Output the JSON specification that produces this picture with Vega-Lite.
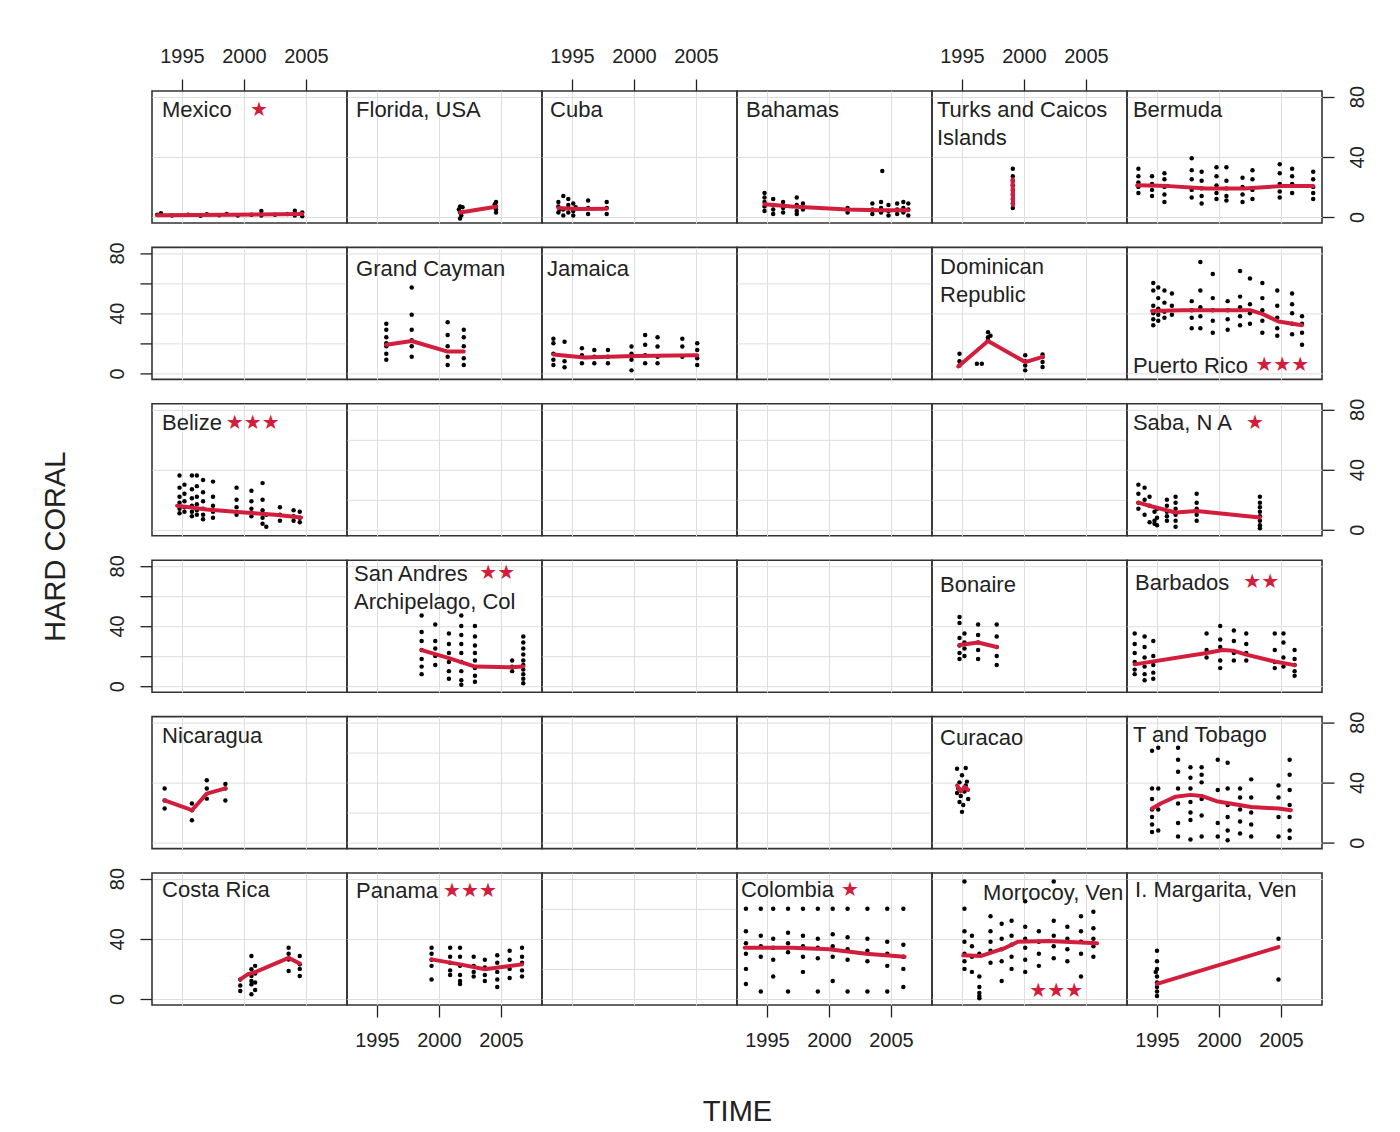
{
"$schema":"https://vega.github.io/schema/vega-lite/v6.json",
"background":"white",
"padding":{"left":40,"top":45,"right":5,"bottom":5},
"config":{
 "font":"Liberation Sans",
 "view":{"stroke":"#333333","strokeWidth":1.6},
 "axis":{"grid":true,"domain":false,"format":"d","gridColor":"#dedede","gridWidth":1,"tickColor":"#222222","tickSize":12,"tickWidth":1.3,"labelFont":"Liberation Sans","labelFontSize":20,"labelColor":"#222222","labelPadding":13,"labelFlush":false,"titleFont":"Liberation Sans","titleFontSize":29,"titleFontWeight":"normal","titleColor":"#222222"},
 "axisY":{"labelAngle":-90},
 "circle":{"size":20,"color":"#000000","opacity":1},
 "line":{"color":"#d21e3c","strokeWidth":4,"strokeCap":"round","strokeJoin":"round"},
 "text":{"font":"Liberation Sans","fontSize":22,"align":"left","baseline":"top","lineBreak":"\n","lineHeight":28,"color":"#222222"}
},
"datasets":{"d":[
{"p":"MEX","t":"l","n":"Mexico","s":"★"},
{"p":"FLA","t":"l","n":"Florida, USA","s":""},
{"p":"CUB","t":"l","n":"Cuba","s":""},
{"p":"BAH","t":"l","n":"Bahamas","s":""},
{"p":"TCI","t":"l","n":"Turks and Caicos\n Islands","s":""},
{"p":"BER","t":"l","n":"Bermuda","s":""},
{"p":"GCA","t":"l","n":"Grand Cayman","s":""},
{"p":"JAM","t":"l","n":"Jamaica","s":""},
{"p":"DOM","t":"l","n":"Dominican\nRepublic","s":""},
{"p":"PUR","t":"l","n":"Puerto Rico","s":"★★★"},
{"p":"BEL","t":"l","n":"Belize","s":"★★★"},
{"p":"SAB","t":"l","n":"Saba, N A","s":"★"},
{"p":"SAN","t":"l","n":"San Andres\nArchipelago, Col","s":"★★"},
{"p":"BON","t":"l","n":"Bonaire","s":""},
{"p":"BAR","t":"l","n":"Barbados","s":"★★"},
{"p":"NIC","t":"l","n":"Nicaragua","s":""},
{"p":"CUR","t":"l","n":"Curacao","s":""},
{"p":"TTO","t":"l","n":"T and  Tobago","s":""},
{"p":"CRI","t":"l","n":"Costa Rica","s":""},
{"p":"PAN","t":"l","n":"Panama","s":"★★★"},
{"p":"COL","t":"l","n":"Colombia","s":"★"},
{"p":"MOR","t":"l","n":"Morrocoy, Ven","s":"★★★"},
{"p":"MAR","t":"l","n":"I. Margarita, Ven","s":""},

{"p":"MEX","t":"o","x":1993.0,"y":1.5},{"p":"MEX","t":"o","x":1993.3,"y":2.5},{"p":"MEX","t":"o","x":1994.2,"y":1},{"p":"MEX","t":"o","x":1995.5,"y":1.5},{"p":"MEX","t":"o","x":1996.5,"y":0.8},{"p":"MEX","t":"o","x":1997.0,"y":1.8},{"p":"MEX","t":"o","x":1998.0,"y":1.2},{"p":"MEX","t":"o","x":1998.6,"y":2},{"p":"MEX","t":"o","x":1999.5,"y":1},{"p":"MEX","t":"o","x":2000.6,"y":1.5},{"p":"MEX","t":"o","x":2001.4,"y":4},{"p":"MEX","t":"o","x":2001.4,"y":1},{"p":"MEX","t":"o","x":2002.5,"y":1.5},{"p":"MEX","t":"o","x":2003.5,"y":2},{"p":"MEX","t":"o","x":2004.1,"y":4.2},{"p":"MEX","t":"o","x":2004.1,"y":1},{"p":"MEX","t":"o","x":2004.7,"y":3},{"p":"MEX","t":"o","x":2004.7,"y":0.5},
{"p":"MEX","t":"f","x":1993.0,"y":1.2},{"p":"MEX","t":"f","x":1999.0,"y":1.5},{"p":"MEX","t":"f","x":2004.7,"y":2.0},

{"p":"FLA","t":"o","x":2001.7,"y":7},{"p":"FLA","t":"o","x":2001.6,"y":5},{"p":"FLA","t":"o","x":2001.7,"y":3},{"p":"FLA","t":"o","x":2001.8,"y":1},{"p":"FLA","t":"o","x":2001.7,"y":-1},{"p":"FLA","t":"o","x":2001.9,"y":6.5},{"p":"FLA","t":"o","x":2004.6,"y":10},{"p":"FLA","t":"o","x":2004.6,"y":7},{"p":"FLA","t":"o","x":2004.6,"y":5},{"p":"FLA","t":"o","x":2004.6,"y":3},{"p":"FLA","t":"o","x":2004.5,"y":8.5},
{"p":"FLA","t":"f","x":2001.7,"y":3},{"p":"FLA","t":"f","x":2004.6,"y":6.8},

{"p":"CUB","t":"o","x":1993.9,"y":3},{"p":"CUB","t":"o","x":1993.9,"y":7},{"p":"CUB","t":"o","x":1993.9,"y":10},{"p":"CUB","t":"o","x":1994.3,"y":14},{"p":"CUB","t":"o","x":1994.3,"y":5},{"p":"CUB","t":"o","x":1994.3,"y":1},{"p":"CUB","t":"o","x":1994.7,"y":12},{"p":"CUB","t":"o","x":1994.7,"y":8},{"p":"CUB","t":"o","x":1994.7,"y":3},{"p":"CUB","t":"o","x":1995.1,"y":9},{"p":"CUB","t":"o","x":1995.1,"y":4},{"p":"CUB","t":"o","x":1995.1,"y":1},{"p":"CUB","t":"o","x":1996.3,"y":11},{"p":"CUB","t":"o","x":1996.3,"y":6},{"p":"CUB","t":"o","x":1996.3,"y":2},{"p":"CUB","t":"o","x":1997.8,"y":10},{"p":"CUB","t":"o","x":1997.8,"y":6},{"p":"CUB","t":"o","x":1997.8,"y":2},{"p":"CUB","t":"o","x":1994.0,"y":5},{"p":"CUB","t":"o","x":1995.3,"y":6.5},
{"p":"CUB","t":"f","x":1993.9,"y":6},{"p":"CUB","t":"f","x":1995.5,"y":5.3},{"p":"CUB","t":"f","x":1997.8,"y":5.5},

{"p":"BAH","t":"o","x":1994.8,"y":16},{"p":"BAH","t":"o","x":1994.8,"y":13},{"p":"BAH","t":"o","x":1994.8,"y":10},{"p":"BAH","t":"o","x":1994.8,"y":7},{"p":"BAH","t":"o","x":1994.8,"y":4},{"p":"BAH","t":"o","x":1995.5,"y":12},{"p":"BAH","t":"o","x":1995.5,"y":8},{"p":"BAH","t":"o","x":1995.5,"y":5},{"p":"BAH","t":"o","x":1995.5,"y":2},{"p":"BAH","t":"o","x":1996.3,"y":10},{"p":"BAH","t":"o","x":1996.3,"y":6},{"p":"BAH","t":"o","x":1996.3,"y":3},{"p":"BAH","t":"o","x":1997.4,"y":13},{"p":"BAH","t":"o","x":1997.4,"y":8},{"p":"BAH","t":"o","x":1997.4,"y":4},{"p":"BAH","t":"o","x":1997.4,"y":2},{"p":"BAH","t":"o","x":1997.9,"y":9},{"p":"BAH","t":"o","x":1997.9,"y":5},{"p":"BAH","t":"o","x":2001.5,"y":6},{"p":"BAH","t":"o","x":2001.5,"y":3},{"p":"BAH","t":"o","x":2003.5,"y":9},{"p":"BAH","t":"o","x":2003.5,"y":5},{"p":"BAH","t":"o","x":2003.5,"y":2},{"p":"BAH","t":"o","x":2004.2,"y":10},{"p":"BAH","t":"o","x":2004.2,"y":6},{"p":"BAH","t":"o","x":2004.2,"y":3},{"p":"BAH","t":"o","x":2004.3,"y":30.5},{"p":"BAH","t":"o","x":2004.8,"y":8},{"p":"BAH","t":"o","x":2004.8,"y":4},{"p":"BAH","t":"o","x":2004.8,"y":1},{"p":"BAH","t":"o","x":2005.5,"y":9},{"p":"BAH","t":"o","x":2005.5,"y":5},{"p":"BAH","t":"o","x":2005.5,"y":2},{"p":"BAH","t":"o","x":2006.0,"y":10},{"p":"BAH","t":"o","x":2006.0,"y":6},{"p":"BAH","t":"o","x":2006.0,"y":3},{"p":"BAH","t":"o","x":2006.4,"y":9},{"p":"BAH","t":"o","x":2006.4,"y":5},{"p":"BAH","t":"o","x":2006.4,"y":1},
{"p":"BAH","t":"f","x":1994.8,"y":8.5},{"p":"BAH","t":"f","x":1997.0,"y":7},{"p":"BAH","t":"f","x":2001.5,"y":5},{"p":"BAH","t":"f","x":2004.0,"y":4.5},{"p":"BAH","t":"f","x":2006.4,"y":4.5},

{"p":"TCI","t":"o","x":1999.1,"y":32},{"p":"TCI","t":"o","x":1999.1,"y":27},{"p":"TCI","t":"o","x":1999.1,"y":24},{"p":"TCI","t":"o","x":1999.1,"y":21},{"p":"TCI","t":"o","x":1999.1,"y":18},{"p":"TCI","t":"o","x":1999.1,"y":15},{"p":"TCI","t":"o","x":1999.1,"y":12},{"p":"TCI","t":"o","x":1999.1,"y":9},{"p":"TCI","t":"o","x":1999.1,"y":6},
{"p":"TCI","t":"f","x":1999.08,"y":25},{"p":"TCI","t":"f","x":1999.12,"y":8},

{"p":"BER","t":"o","x":1993.5,"y":32},{"p":"BER","t":"o","x":1993.5,"y":27},{"p":"BER","t":"o","x":1993.5,"y":23},{"p":"BER","t":"o","x":1993.5,"y":20},{"p":"BER","t":"o","x":1993.5,"y":16},{"p":"BER","t":"o","x":1994.6,"y":27},{"p":"BER","t":"o","x":1994.6,"y":22},{"p":"BER","t":"o","x":1994.6,"y":18},{"p":"BER","t":"o","x":1994.6,"y":14},{"p":"BER","t":"o","x":1995.6,"y":29},{"p":"BER","t":"o","x":1995.6,"y":25},{"p":"BER","t":"o","x":1995.6,"y":20},{"p":"BER","t":"o","x":1995.6,"y":15},{"p":"BER","t":"o","x":1995.6,"y":10},{"p":"BER","t":"o","x":1997.8,"y":39},{"p":"BER","t":"o","x":1997.8,"y":31},{"p":"BER","t":"o","x":1997.8,"y":25},{"p":"BER","t":"o","x":1997.8,"y":18},{"p":"BER","t":"o","x":1997.8,"y":13},{"p":"BER","t":"o","x":1998.6,"y":30},{"p":"BER","t":"o","x":1998.6,"y":24},{"p":"BER","t":"o","x":1998.6,"y":19},{"p":"BER","t":"o","x":1998.6,"y":14},{"p":"BER","t":"o","x":1998.6,"y":9},{"p":"BER","t":"o","x":1999.8,"y":33},{"p":"BER","t":"o","x":1999.8,"y":27},{"p":"BER","t":"o","x":1999.8,"y":21},{"p":"BER","t":"o","x":1999.8,"y":16},{"p":"BER","t":"o","x":1999.8,"y":12},{"p":"BER","t":"o","x":2000.6,"y":33},{"p":"BER","t":"o","x":2000.6,"y":24},{"p":"BER","t":"o","x":2000.6,"y":19},{"p":"BER","t":"o","x":2000.6,"y":14},{"p":"BER","t":"o","x":2000.6,"y":11},{"p":"BER","t":"o","x":2001.9,"y":26},{"p":"BER","t":"o","x":2001.9,"y":20},{"p":"BER","t":"o","x":2001.9,"y":15},{"p":"BER","t":"o","x":2001.9,"y":10},{"p":"BER","t":"o","x":2002.7,"y":31},{"p":"BER","t":"o","x":2002.7,"y":25},{"p":"BER","t":"o","x":2002.7,"y":18},{"p":"BER","t":"o","x":2002.7,"y":12},{"p":"BER","t":"o","x":2004.9,"y":35},{"p":"BER","t":"o","x":2004.9,"y":29},{"p":"BER","t":"o","x":2004.9,"y":22},{"p":"BER","t":"o","x":2004.9,"y":17},{"p":"BER","t":"o","x":2004.9,"y":13},{"p":"BER","t":"o","x":2005.9,"y":32},{"p":"BER","t":"o","x":2005.9,"y":27},{"p":"BER","t":"o","x":2005.9,"y":22},{"p":"BER","t":"o","x":2005.9,"y":16},{"p":"BER","t":"o","x":2007.6,"y":30},{"p":"BER","t":"o","x":2007.6,"y":25},{"p":"BER","t":"o","x":2007.6,"y":20},{"p":"BER","t":"o","x":2007.6,"y":16},{"p":"BER","t":"o","x":2007.6,"y":12},
{"p":"BER","t":"f","x":1993.4,"y":21},{"p":"BER","t":"f","x":1996.0,"y":20.5},{"p":"BER","t":"f","x":1999.0,"y":19},{"p":"BER","t":"f","x":2002.0,"y":19},{"p":"BER","t":"f","x":2005.0,"y":20.5},{"p":"BER","t":"f","x":2007.6,"y":20.5},

{"p":"GCA","t":"o","x":1995.75,"y":33},{"p":"GCA","t":"o","x":1995.75,"y":29},{"p":"GCA","t":"o","x":1995.75,"y":24},{"p":"GCA","t":"o","x":1995.75,"y":20},{"p":"GCA","t":"o","x":1995.75,"y":18},{"p":"GCA","t":"o","x":1995.75,"y":13},{"p":"GCA","t":"o","x":1995.75,"y":9},{"p":"GCA","t":"o","x":1997.8,"y":57},{"p":"GCA","t":"o","x":1997.8,"y":39},{"p":"GCA","t":"o","x":1997.8,"y":29},{"p":"GCA","t":"o","x":1997.8,"y":22},{"p":"GCA","t":"o","x":1997.8,"y":18},{"p":"GCA","t":"o","x":1997.8,"y":11},{"p":"GCA","t":"o","x":2000.7,"y":34},{"p":"GCA","t":"o","x":2000.7,"y":25.5},{"p":"GCA","t":"o","x":2000.7,"y":18},{"p":"GCA","t":"o","x":2000.7,"y":11},{"p":"GCA","t":"o","x":2000.7,"y":5.5},{"p":"GCA","t":"o","x":2002.0,"y":29},{"p":"GCA","t":"o","x":2002.0,"y":24},{"p":"GCA","t":"o","x":2002.0,"y":18},{"p":"GCA","t":"o","x":2002.0,"y":10},{"p":"GCA","t":"o","x":2002.0,"y":5.5},
{"p":"GCA","t":"f","x":1995.75,"y":19},{"p":"GCA","t":"f","x":1997.8,"y":21.5},{"p":"GCA","t":"f","x":2000.7,"y":14.5},{"p":"GCA","t":"f","x":2002.0,"y":14.5},

{"p":"JAM","t":"o","x":1993.5,"y":23},{"p":"JAM","t":"o","x":1993.5,"y":20},{"p":"JAM","t":"o","x":1993.5,"y":13},{"p":"JAM","t":"o","x":1993.5,"y":9},{"p":"JAM","t":"o","x":1993.5,"y":5.5},{"p":"JAM","t":"o","x":1994.4,"y":21},{"p":"JAM","t":"o","x":1994.4,"y":8},{"p":"JAM","t":"o","x":1994.4,"y":4},{"p":"JAM","t":"o","x":1995.8,"y":16.7},{"p":"JAM","t":"o","x":1995.8,"y":12},{"p":"JAM","t":"o","x":1995.8,"y":6.7},{"p":"JAM","t":"o","x":1996.8,"y":15.5},{"p":"JAM","t":"o","x":1996.8,"y":11},{"p":"JAM","t":"o","x":1996.8,"y":6.7},{"p":"JAM","t":"o","x":1997.9,"y":15.5},{"p":"JAM","t":"o","x":1997.9,"y":11},{"p":"JAM","t":"o","x":1997.9,"y":6.7},{"p":"JAM","t":"o","x":1999.8,"y":17.8},{"p":"JAM","t":"o","x":1999.8,"y":13},{"p":"JAM","t":"o","x":1999.8,"y":9},{"p":"JAM","t":"o","x":1999.8,"y":2},{"p":"JAM","t":"o","x":2000.9,"y":25.5},{"p":"JAM","t":"o","x":2000.9,"y":19},{"p":"JAM","t":"o","x":2000.9,"y":12},{"p":"JAM","t":"o","x":2000.9,"y":6.7},{"p":"JAM","t":"o","x":2001.9,"y":24},{"p":"JAM","t":"o","x":2001.9,"y":17.8},{"p":"JAM","t":"o","x":2001.9,"y":11},{"p":"JAM","t":"o","x":2001.9,"y":6.7},{"p":"JAM","t":"o","x":2003.9,"y":23},{"p":"JAM","t":"o","x":2003.9,"y":17.8},{"p":"JAM","t":"o","x":2003.9,"y":11},{"p":"JAM","t":"o","x":2005.1,"y":20},{"p":"JAM","t":"o","x":2005.1,"y":15.5},{"p":"JAM","t":"o","x":2005.1,"y":10},{"p":"JAM","t":"o","x":2005.1,"y":5.5},
{"p":"JAM","t":"f","x":1993.5,"y":12.5},{"p":"JAM","t":"f","x":1996.0,"y":10.5},{"p":"JAM","t":"f","x":2000.0,"y":11.5},{"p":"JAM","t":"f","x":2005.1,"y":12},

{"p":"DOM","t":"o","x":1994.8,"y":13},{"p":"DOM","t":"o","x":1994.8,"y":5.3},{"p":"DOM","t":"o","x":1994.8,"y":8},{"p":"DOM","t":"o","x":1996.2,"y":6.4},{"p":"DOM","t":"o","x":1996.6,"y":6.4},{"p":"DOM","t":"o","x":1997.1,"y":27.4},{"p":"DOM","t":"o","x":1997.1,"y":24},{"p":"DOM","t":"o","x":1997.1,"y":22},{"p":"DOM","t":"o","x":1997.3,"y":25},{"p":"DOM","t":"o","x":2000.1,"y":12},{"p":"DOM","t":"o","x":2000.1,"y":5.3},{"p":"DOM","t":"o","x":2000.1,"y":2},{"p":"DOM","t":"o","x":2000.1,"y":8},{"p":"DOM","t":"o","x":2001.5,"y":10.8},{"p":"DOM","t":"o","x":2001.5,"y":7.5},{"p":"DOM","t":"o","x":2001.5,"y":4.2},{"p":"DOM","t":"o","x":2001.5,"y":12.5},
{"p":"DOM","t":"f","x":1994.7,"y":4.6},{"p":"DOM","t":"f","x":1997.1,"y":21.5},{"p":"DOM","t":"f","x":2000.1,"y":7.5},{"p":"DOM","t":"f","x":2001.5,"y":11},

{"p":"PUR","t":"o","x":1994.7,"y":60},{"p":"PUR","t":"o","x":1994.7,"y":55},{"p":"PUR","t":"o","x":1994.7,"y":45},{"p":"PUR","t":"o","x":1994.7,"y":40},{"p":"PUR","t":"o","x":1994.7,"y":36},{"p":"PUR","t":"o","x":1994.7,"y":32},{"p":"PUR","t":"o","x":1995.1,"y":57},{"p":"PUR","t":"o","x":1995.1,"y":50},{"p":"PUR","t":"o","x":1995.1,"y":43},{"p":"PUR","t":"o","x":1995.1,"y":39},{"p":"PUR","t":"o","x":1995.1,"y":35},{"p":"PUR","t":"o","x":1995.6,"y":55},{"p":"PUR","t":"o","x":1995.6,"y":47},{"p":"PUR","t":"o","x":1995.6,"y":41},{"p":"PUR","t":"o","x":1995.6,"y":37},{"p":"PUR","t":"o","x":1996.2,"y":53},{"p":"PUR","t":"o","x":1996.2,"y":45},{"p":"PUR","t":"o","x":1996.2,"y":39},{"p":"PUR","t":"o","x":1997.8,"y":48},{"p":"PUR","t":"o","x":1997.8,"y":42},{"p":"PUR","t":"o","x":1997.8,"y":37},{"p":"PUR","t":"o","x":1997.8,"y":30},{"p":"PUR","t":"o","x":1998.5,"y":74},{"p":"PUR","t":"o","x":1998.5,"y":55},{"p":"PUR","t":"o","x":1998.5,"y":44},{"p":"PUR","t":"o","x":1998.5,"y":38},{"p":"PUR","t":"o","x":1998.5,"y":30},{"p":"PUR","t":"o","x":1999.5,"y":66},{"p":"PUR","t":"o","x":1999.5,"y":50},{"p":"PUR","t":"o","x":1999.5,"y":42},{"p":"PUR","t":"o","x":1999.5,"y":35},{"p":"PUR","t":"o","x":1999.5,"y":27},{"p":"PUR","t":"o","x":2000.7,"y":48},{"p":"PUR","t":"o","x":2000.7,"y":42},{"p":"PUR","t":"o","x":2000.7,"y":36},{"p":"PUR","t":"o","x":2000.7,"y":29},{"p":"PUR","t":"o","x":2001.7,"y":68},{"p":"PUR","t":"o","x":2001.7,"y":51},{"p":"PUR","t":"o","x":2001.7,"y":44},{"p":"PUR","t":"o","x":2001.7,"y":38},{"p":"PUR","t":"o","x":2001.7,"y":32},{"p":"PUR","t":"o","x":2002.5,"y":63},{"p":"PUR","t":"o","x":2002.5,"y":46},{"p":"PUR","t":"o","x":2002.5,"y":40},{"p":"PUR","t":"o","x":2002.5,"y":33},{"p":"PUR","t":"o","x":2003.5,"y":60},{"p":"PUR","t":"o","x":2003.5,"y":50},{"p":"PUR","t":"o","x":2003.5,"y":42},{"p":"PUR","t":"o","x":2003.5,"y":35},{"p":"PUR","t":"o","x":2003.5,"y":27},{"p":"PUR","t":"o","x":2004.7,"y":55},{"p":"PUR","t":"o","x":2004.7,"y":45},{"p":"PUR","t":"o","x":2004.7,"y":37},{"p":"PUR","t":"o","x":2004.7,"y":30},{"p":"PUR","t":"o","x":2004.7,"y":25},{"p":"PUR","t":"o","x":2005.9,"y":53},{"p":"PUR","t":"o","x":2005.9,"y":46},{"p":"PUR","t":"o","x":2005.9,"y":40},{"p":"PUR","t":"o","x":2005.9,"y":33},{"p":"PUR","t":"o","x":2005.9,"y":26},{"p":"PUR","t":"o","x":2006.7,"y":38},{"p":"PUR","t":"o","x":2006.7,"y":33},{"p":"PUR","t":"o","x":2006.7,"y":27},{"p":"PUR","t":"o","x":2006.7,"y":19},
{"p":"PUR","t":"f","x":1994.6,"y":41.5},{"p":"PUR","t":"f","x":1997.0,"y":42},{"p":"PUR","t":"f","x":2000.0,"y":42},{"p":"PUR","t":"f","x":2002.5,"y":42},{"p":"PUR","t":"f","x":2003.5,"y":39.5},{"p":"PUR","t":"f","x":2004.8,"y":34.5},{"p":"PUR","t":"f","x":2006.7,"y":32},

{"p":"BEL","t":"o","x":1994.8,"y":36},{"p":"BEL","t":"o","x":1994.8,"y":28},{"p":"BEL","t":"o","x":1994.8,"y":22},{"p":"BEL","t":"o","x":1994.8,"y":18},{"p":"BEL","t":"o","x":1994.8,"y":14},{"p":"BEL","t":"o","x":1994.8,"y":11},{"p":"BEL","t":"o","x":1995.2,"y":30},{"p":"BEL","t":"o","x":1995.2,"y":24},{"p":"BEL","t":"o","x":1995.2,"y":19},{"p":"BEL","t":"o","x":1995.2,"y":15},{"p":"BEL","t":"o","x":1995.2,"y":12},{"p":"BEL","t":"o","x":1995.8,"y":36},{"p":"BEL","t":"o","x":1995.8,"y":27},{"p":"BEL","t":"o","x":1995.8,"y":21},{"p":"BEL","t":"o","x":1995.8,"y":16},{"p":"BEL","t":"o","x":1995.8,"y":12},{"p":"BEL","t":"o","x":1995.8,"y":9},{"p":"BEL","t":"o","x":1996.2,"y":36},{"p":"BEL","t":"o","x":1996.2,"y":29},{"p":"BEL","t":"o","x":1996.2,"y":22},{"p":"BEL","t":"o","x":1996.2,"y":17},{"p":"BEL","t":"o","x":1996.2,"y":13},{"p":"BEL","t":"o","x":1996.2,"y":10},{"p":"BEL","t":"o","x":1996.7,"y":33},{"p":"BEL","t":"o","x":1996.7,"y":25},{"p":"BEL","t":"o","x":1996.7,"y":19},{"p":"BEL","t":"o","x":1996.7,"y":14},{"p":"BEL","t":"o","x":1996.7,"y":10},{"p":"BEL","t":"o","x":1996.7,"y":7},{"p":"BEL","t":"o","x":1997.5,"y":32},{"p":"BEL","t":"o","x":1997.5,"y":22},{"p":"BEL","t":"o","x":1997.5,"y":16},{"p":"BEL","t":"o","x":1997.5,"y":12},{"p":"BEL","t":"o","x":1997.5,"y":8},{"p":"BEL","t":"o","x":1999.4,"y":28},{"p":"BEL","t":"o","x":1999.4,"y":20},{"p":"BEL","t":"o","x":1999.4,"y":15},{"p":"BEL","t":"o","x":1999.4,"y":10},{"p":"BEL","t":"o","x":2000.6,"y":26},{"p":"BEL","t":"o","x":2000.6,"y":19},{"p":"BEL","t":"o","x":2000.6,"y":14},{"p":"BEL","t":"o","x":2000.6,"y":9},{"p":"BEL","t":"o","x":2001.5,"y":31},{"p":"BEL","t":"o","x":2001.5,"y":20},{"p":"BEL","t":"o","x":2001.5,"y":13},{"p":"BEL","t":"o","x":2001.5,"y":8},{"p":"BEL","t":"o","x":2001.5,"y":4},{"p":"BEL","t":"o","x":2001.8,"y":10},{"p":"BEL","t":"o","x":2001.8,"y":2},{"p":"BEL","t":"o","x":2002.9,"y":15},{"p":"BEL","t":"o","x":2002.9,"y":10},{"p":"BEL","t":"o","x":2002.9,"y":6},{"p":"BEL","t":"o","x":2004.0,"y":13},{"p":"BEL","t":"o","x":2004.0,"y":9},{"p":"BEL","t":"o","x":2004.0,"y":6},{"p":"BEL","t":"o","x":2004.5,"y":12},{"p":"BEL","t":"o","x":2004.5,"y":8},{"p":"BEL","t":"o","x":2004.5,"y":5},
{"p":"BEL","t":"f","x":1994.6,"y":16},{"p":"BEL","t":"f","x":1997.0,"y":13.5},{"p":"BEL","t":"f","x":2000.0,"y":11.5},{"p":"BEL","t":"f","x":2002.5,"y":10},{"p":"BEL","t":"f","x":2004.6,"y":8.2},

{"p":"SAB","t":"o","x":1993.5,"y":30},{"p":"SAB","t":"o","x":1993.5,"y":24},{"p":"SAB","t":"o","x":1993.5,"y":18},{"p":"SAB","t":"o","x":1993.5,"y":14},{"p":"SAB","t":"o","x":1994.0,"y":28},{"p":"SAB","t":"o","x":1994.0,"y":20},{"p":"SAB","t":"o","x":1994.0,"y":10},{"p":"SAB","t":"o","x":1994.4,"y":22},{"p":"SAB","t":"o","x":1994.4,"y":16},{"p":"SAB","t":"o","x":1994.4,"y":5},{"p":"SAB","t":"o","x":1994.8,"y":12},{"p":"SAB","t":"o","x":1994.8,"y":6},{"p":"SAB","t":"o","x":1994.8,"y":4},{"p":"SAB","t":"o","x":1995.0,"y":14},{"p":"SAB","t":"o","x":1995.0,"y":8},{"p":"SAB","t":"o","x":1995.0,"y":3},{"p":"SAB","t":"o","x":1995.8,"y":20},{"p":"SAB","t":"o","x":1995.8,"y":16},{"p":"SAB","t":"o","x":1995.8,"y":12},{"p":"SAB","t":"o","x":1995.8,"y":9},{"p":"SAB","t":"o","x":1995.8,"y":6},{"p":"SAB","t":"o","x":1996.5,"y":22},{"p":"SAB","t":"o","x":1996.5,"y":18},{"p":"SAB","t":"o","x":1996.5,"y":14},{"p":"SAB","t":"o","x":1996.5,"y":10},{"p":"SAB","t":"o","x":1996.5,"y":6},{"p":"SAB","t":"o","x":1996.5,"y":2},{"p":"SAB","t":"o","x":1998.2,"y":24},{"p":"SAB","t":"o","x":1998.2,"y":18},{"p":"SAB","t":"o","x":1998.2,"y":14},{"p":"SAB","t":"o","x":1998.2,"y":10},{"p":"SAB","t":"o","x":1998.2,"y":6},{"p":"SAB","t":"o","x":2003.3,"y":22},{"p":"SAB","t":"o","x":2003.3,"y":18},{"p":"SAB","t":"o","x":2003.3,"y":15},{"p":"SAB","t":"o","x":2003.3,"y":12},{"p":"SAB","t":"o","x":2003.3,"y":9},{"p":"SAB","t":"o","x":2003.3,"y":6},{"p":"SAB","t":"o","x":2003.3,"y":3},{"p":"SAB","t":"o","x":2003.3,"y":1},
{"p":"SAB","t":"f","x":1993.5,"y":18},{"p":"SAB","t":"f","x":1994.6,"y":15.5},{"p":"SAB","t":"f","x":1996.5,"y":11.5},{"p":"SAB","t":"f","x":1998.2,"y":12.5},{"p":"SAB","t":"f","x":2003.3,"y":8.2},

{"p":"SAN","t":"o","x":1998.6,"y":47},{"p":"SAN","t":"o","x":1998.6,"y":36},{"p":"SAN","t":"o","x":1998.6,"y":30},{"p":"SAN","t":"o","x":1998.6,"y":24},{"p":"SAN","t":"o","x":1998.6,"y":18},{"p":"SAN","t":"o","x":1998.6,"y":13},{"p":"SAN","t":"o","x":1998.6,"y":8},{"p":"SAN","t":"o","x":1999.7,"y":41},{"p":"SAN","t":"o","x":1999.7,"y":30},{"p":"SAN","t":"o","x":1999.7,"y":25},{"p":"SAN","t":"o","x":1999.7,"y":20},{"p":"SAN","t":"o","x":1999.7,"y":14},{"p":"SAN","t":"o","x":2000.8,"y":35},{"p":"SAN","t":"o","x":2000.8,"y":28},{"p":"SAN","t":"o","x":2000.8,"y":22},{"p":"SAN","t":"o","x":2000.8,"y":16},{"p":"SAN","t":"o","x":2000.8,"y":10},{"p":"SAN","t":"o","x":2000.8,"y":5},{"p":"SAN","t":"o","x":2001.8,"y":47},{"p":"SAN","t":"o","x":2001.8,"y":40},{"p":"SAN","t":"o","x":2001.8,"y":34},{"p":"SAN","t":"o","x":2001.8,"y":28},{"p":"SAN","t":"o","x":2001.8,"y":22},{"p":"SAN","t":"o","x":2001.8,"y":16},{"p":"SAN","t":"o","x":2001.8,"y":10},{"p":"SAN","t":"o","x":2001.8,"y":4},{"p":"SAN","t":"o","x":2001.8,"y":1},{"p":"SAN","t":"o","x":2002.9,"y":40},{"p":"SAN","t":"o","x":2002.9,"y":33},{"p":"SAN","t":"o","x":2002.9,"y":27},{"p":"SAN","t":"o","x":2002.9,"y":22},{"p":"SAN","t":"o","x":2002.9,"y":17},{"p":"SAN","t":"o","x":2002.9,"y":12},{"p":"SAN","t":"o","x":2002.9,"y":7},{"p":"SAN","t":"o","x":2002.9,"y":3},{"p":"SAN","t":"o","x":2005.9,"y":17},{"p":"SAN","t":"o","x":2005.9,"y":13},{"p":"SAN","t":"o","x":2005.9,"y":10},{"p":"SAN","t":"o","x":2006.8,"y":33},{"p":"SAN","t":"o","x":2006.8,"y":29},{"p":"SAN","t":"o","x":2006.8,"y":25},{"p":"SAN","t":"o","x":2006.8,"y":21},{"p":"SAN","t":"o","x":2006.8,"y":17},{"p":"SAN","t":"o","x":2006.8,"y":14},{"p":"SAN","t":"o","x":2006.8,"y":11},{"p":"SAN","t":"o","x":2006.8,"y":8},{"p":"SAN","t":"o","x":2006.8,"y":5},{"p":"SAN","t":"o","x":2006.8,"y":2},
{"p":"SAN","t":"f","x":1998.6,"y":24},{"p":"SAN","t":"f","x":2000.8,"y":18.6},{"p":"SAN","t":"f","x":2002.9,"y":13},{"p":"SAN","t":"f","x":2005.9,"y":12.5},{"p":"SAN","t":"f","x":2006.8,"y":13},

{"p":"BON","t":"o","x":1994.8,"y":46},{"p":"BON","t":"o","x":1994.8,"y":42},{"p":"BON","t":"o","x":1994.8,"y":32},{"p":"BON","t":"o","x":1994.8,"y":27},{"p":"BON","t":"o","x":1994.8,"y":22},{"p":"BON","t":"o","x":1994.8,"y":18},{"p":"BON","t":"o","x":1995.2,"y":35},{"p":"BON","t":"o","x":1995.2,"y":29},{"p":"BON","t":"o","x":1995.2,"y":25},{"p":"BON","t":"o","x":1995.2,"y":20},{"p":"BON","t":"o","x":1996.3,"y":41},{"p":"BON","t":"o","x":1996.3,"y":34},{"p":"BON","t":"o","x":1996.3,"y":29},{"p":"BON","t":"o","x":1996.3,"y":24},{"p":"BON","t":"o","x":1996.3,"y":18},{"p":"BON","t":"o","x":1997.8,"y":41},{"p":"BON","t":"o","x":1997.8,"y":33},{"p":"BON","t":"o","x":1997.8,"y":26},{"p":"BON","t":"o","x":1997.8,"y":20},{"p":"BON","t":"o","x":1997.8,"y":14},
{"p":"BON","t":"f","x":1994.8,"y":27.4},{"p":"BON","t":"f","x":1996.3,"y":29},{"p":"BON","t":"f","x":1997.8,"y":26},

{"p":"BAR","t":"o","x":1993.2,"y":35},{"p":"BAR","t":"o","x":1993.2,"y":28},{"p":"BAR","t":"o","x":1993.2,"y":22},{"p":"BAR","t":"o","x":1993.2,"y":16},{"p":"BAR","t":"o","x":1993.2,"y":11},{"p":"BAR","t":"o","x":1993.2,"y":8},{"p":"BAR","t":"o","x":1994.0,"y":33},{"p":"BAR","t":"o","x":1994.0,"y":26},{"p":"BAR","t":"o","x":1994.0,"y":19},{"p":"BAR","t":"o","x":1994.0,"y":13},{"p":"BAR","t":"o","x":1994.0,"y":8},{"p":"BAR","t":"o","x":1994.0,"y":4},{"p":"BAR","t":"o","x":1994.7,"y":30},{"p":"BAR","t":"o","x":1994.7,"y":20},{"p":"BAR","t":"o","x":1994.7,"y":14},{"p":"BAR","t":"o","x":1994.7,"y":9},{"p":"BAR","t":"o","x":1994.7,"y":5},{"p":"BAR","t":"o","x":1999.0,"y":35},{"p":"BAR","t":"o","x":1999.0,"y":24},{"p":"BAR","t":"o","x":1999.0,"y":19},{"p":"BAR","t":"o","x":2000.1,"y":40},{"p":"BAR","t":"o","x":2000.1,"y":31},{"p":"BAR","t":"o","x":2000.1,"y":26},{"p":"BAR","t":"o","x":2000.1,"y":17},{"p":"BAR","t":"o","x":2000.1,"y":12},{"p":"BAR","t":"o","x":2001.2,"y":37},{"p":"BAR","t":"o","x":2001.2,"y":30},{"p":"BAR","t":"o","x":2001.2,"y":22},{"p":"BAR","t":"o","x":2001.2,"y":17},{"p":"BAR","t":"o","x":2002.2,"y":35},{"p":"BAR","t":"o","x":2002.2,"y":28},{"p":"BAR","t":"o","x":2002.2,"y":22},{"p":"BAR","t":"o","x":2002.2,"y":17},{"p":"BAR","t":"o","x":2004.5,"y":35},{"p":"BAR","t":"o","x":2004.5,"y":24},{"p":"BAR","t":"o","x":2004.5,"y":16},{"p":"BAR","t":"o","x":2004.5,"y":12},{"p":"BAR","t":"o","x":2005.2,"y":35},{"p":"BAR","t":"o","x":2005.2,"y":29},{"p":"BAR","t":"o","x":2005.2,"y":19},{"p":"BAR","t":"o","x":2005.2,"y":13},{"p":"BAR","t":"o","x":2006.1,"y":24},{"p":"BAR","t":"o","x":2006.1,"y":18},{"p":"BAR","t":"o","x":2006.1,"y":14},{"p":"BAR","t":"o","x":2006.1,"y":10},{"p":"BAR","t":"o","x":2006.1,"y":7},
{"p":"BAR","t":"f","x":1993.2,"y":14.5},{"p":"BAR","t":"f","x":1999.0,"y":22},{"p":"BAR","t":"f","x":2000.3,"y":24},{"p":"BAR","t":"f","x":2001.2,"y":23.5},{"p":"BAR","t":"f","x":2002.2,"y":21},{"p":"BAR","t":"f","x":2004.5,"y":16.4},{"p":"BAR","t":"f","x":2006.1,"y":14},

{"p":"NIC","t":"o","x":1993.6,"y":36},{"p":"NIC","t":"o","x":1993.6,"y":28},{"p":"NIC","t":"o","x":1993.6,"y":22.6},{"p":"NIC","t":"o","x":1995.8,"y":26},{"p":"NIC","t":"o","x":1995.8,"y":21.5},{"p":"NIC","t":"o","x":1995.8,"y":14.8},{"p":"NIC","t":"o","x":1997.0,"y":41.4},{"p":"NIC","t":"o","x":1997.0,"y":36},{"p":"NIC","t":"o","x":1997.0,"y":29.2},{"p":"NIC","t":"o","x":1998.5,"y":39},{"p":"NIC","t":"o","x":1998.5,"y":36},{"p":"NIC","t":"o","x":1998.5,"y":28},
{"p":"NIC","t":"f","x":1993.6,"y":28},{"p":"NIC","t":"f","x":1995.8,"y":21.5},{"p":"NIC","t":"f","x":1997.0,"y":32.5},{"p":"NIC","t":"f","x":1998.5,"y":36},

{"p":"CUR","t":"o","x":1994.6,"y":49},{"p":"CUR","t":"o","x":1995.3,"y":49.5},{"p":"CUR","t":"o","x":1995.0,"y":44.7},{"p":"CUR","t":"o","x":1994.8,"y":40},{"p":"CUR","t":"o","x":1995.4,"y":40.5},{"p":"CUR","t":"o","x":1994.7,"y":36},{"p":"CUR","t":"o","x":1995.2,"y":34},{"p":"CUR","t":"o","x":1994.9,"y":31},{"p":"CUR","t":"o","x":1995.5,"y":29},{"p":"CUR","t":"o","x":1995.1,"y":25},{"p":"CUR","t":"o","x":1994.8,"y":27},{"p":"CUR","t":"o","x":1995.0,"y":20.4},{"p":"CUR","t":"o","x":1995.3,"y":38},{"p":"CUR","t":"o","x":1994.6,"y":33},
{"p":"CUR","t":"f","x":1994.6,"y":38},{"p":"CUR","t":"f","x":1994.9,"y":34},{"p":"CUR","t":"f","x":1995.2,"y":37},{"p":"CUR","t":"f","x":1995.5,"y":35},

{"p":"TTO","t":"o","x":1994.6,"y":61},{"p":"TTO","t":"o","x":1994.6,"y":36},{"p":"TTO","t":"o","x":1994.6,"y":29},{"p":"TTO","t":"o","x":1994.6,"y":22},{"p":"TTO","t":"o","x":1994.6,"y":17},{"p":"TTO","t":"o","x":1994.6,"y":12},{"p":"TTO","t":"o","x":1994.6,"y":7},{"p":"TTO","t":"o","x":1995.1,"y":63},{"p":"TTO","t":"o","x":1995.1,"y":36},{"p":"TTO","t":"o","x":1995.1,"y":22},{"p":"TTO","t":"o","x":1995.1,"y":8},{"p":"TTO","t":"o","x":1996.7,"y":63},{"p":"TTO","t":"o","x":1996.7,"y":55},{"p":"TTO","t":"o","x":1996.7,"y":47},{"p":"TTO","t":"o","x":1996.7,"y":36},{"p":"TTO","t":"o","x":1996.7,"y":26},{"p":"TTO","t":"o","x":1996.7,"y":13},{"p":"TTO","t":"o","x":1996.7,"y":4},{"p":"TTO","t":"o","x":1997.7,"y":50},{"p":"TTO","t":"o","x":1997.7,"y":43},{"p":"TTO","t":"o","x":1997.7,"y":36},{"p":"TTO","t":"o","x":1997.7,"y":27},{"p":"TTO","t":"o","x":1997.7,"y":20},{"p":"TTO","t":"o","x":1997.7,"y":15},{"p":"TTO","t":"o","x":1997.7,"y":2},{"p":"TTO","t":"o","x":1998.6,"y":50},{"p":"TTO","t":"o","x":1998.6,"y":45},{"p":"TTO","t":"o","x":1998.6,"y":40},{"p":"TTO","t":"o","x":1998.6,"y":29},{"p":"TTO","t":"o","x":1998.6,"y":18},{"p":"TTO","t":"o","x":1998.6,"y":4},{"p":"TTO","t":"o","x":1999.9,"y":55},{"p":"TTO","t":"o","x":1999.9,"y":35},{"p":"TTO","t":"o","x":1999.9,"y":13},{"p":"TTO","t":"o","x":1999.9,"y":4},{"p":"TTO","t":"o","x":2000.7,"y":53},{"p":"TTO","t":"o","x":2000.7,"y":36},{"p":"TTO","t":"o","x":2000.7,"y":25},{"p":"TTO","t":"o","x":2000.7,"y":17},{"p":"TTO","t":"o","x":2000.7,"y":8},{"p":"TTO","t":"o","x":2000.7,"y":1.5},{"p":"TTO","t":"o","x":2001.7,"y":36},{"p":"TTO","t":"o","x":2001.7,"y":30},{"p":"TTO","t":"o","x":2001.7,"y":22},{"p":"TTO","t":"o","x":2001.7,"y":14},{"p":"TTO","t":"o","x":2001.7,"y":6},{"p":"TTO","t":"o","x":2002.6,"y":42},{"p":"TTO","t":"o","x":2002.6,"y":30},{"p":"TTO","t":"o","x":2002.6,"y":20},{"p":"TTO","t":"o","x":2002.6,"y":12},{"p":"TTO","t":"o","x":2002.6,"y":4},{"p":"TTO","t":"o","x":2004.8,"y":38},{"p":"TTO","t":"o","x":2004.8,"y":30},{"p":"TTO","t":"o","x":2004.8,"y":17},{"p":"TTO","t":"o","x":2004.8,"y":4},{"p":"TTO","t":"o","x":2005.7,"y":55},{"p":"TTO","t":"o","x":2005.7,"y":45},{"p":"TTO","t":"o","x":2005.7,"y":35},{"p":"TTO","t":"o","x":2005.7,"y":25},{"p":"TTO","t":"o","x":2005.7,"y":17},{"p":"TTO","t":"o","x":2005.7,"y":8},{"p":"TTO","t":"o","x":2005.7,"y":3},
{"p":"TTO","t":"f","x":1994.6,"y":22.6},{"p":"TTO","t":"f","x":1995.3,"y":26},{"p":"TTO","t":"f","x":1996.5,"y":30.5},{"p":"TTO","t":"f","x":1997.7,"y":31.7},{"p":"TTO","t":"f","x":1998.6,"y":31},{"p":"TTO","t":"f","x":1999.8,"y":27.5},{"p":"TTO","t":"f","x":2002.6,"y":23.7},{"p":"TTO","t":"f","x":2004.8,"y":22.6},{"p":"TTO","t":"f","x":2005.8,"y":21.5},

{"p":"CRI","t":"o","x":1999.7,"y":13},{"p":"CRI","t":"o","x":1999.7,"y":5.3},{"p":"CRI","t":"o","x":1999.7,"y":9},{"p":"CRI","t":"o","x":2000.6,"y":19.7},{"p":"CRI","t":"o","x":2000.6,"y":15.3},{"p":"CRI","t":"o","x":2000.6,"y":9.7},{"p":"CRI","t":"o","x":2000.6,"y":3.1},{"p":"CRI","t":"o","x":2000.6,"y":28.5},{"p":"CRI","t":"o","x":2000.6,"y":12},{"p":"CRI","t":"o","x":2000.9,"y":22},{"p":"CRI","t":"o","x":2000.9,"y":17},{"p":"CRI","t":"o","x":2000.9,"y":11},{"p":"CRI","t":"o","x":2000.9,"y":6},{"p":"CRI","t":"o","x":2003.6,"y":34},{"p":"CRI","t":"o","x":2003.6,"y":30},{"p":"CRI","t":"o","x":2003.6,"y":26.3},{"p":"CRI","t":"o","x":2003.6,"y":18.6},{"p":"CRI","t":"o","x":2004.5,"y":28.5},{"p":"CRI","t":"o","x":2004.5,"y":23},{"p":"CRI","t":"o","x":2004.5,"y":15.3},{"p":"CRI","t":"o","x":2004.5,"y":20},
{"p":"CRI","t":"f","x":1999.7,"y":13},{"p":"CRI","t":"f","x":2000.3,"y":16.4},{"p":"CRI","t":"f","x":2000.8,"y":17.5},{"p":"CRI","t":"f","x":2003.6,"y":27.3},{"p":"CRI","t":"f","x":2004.5,"y":23.6},

{"p":"PAN","t":"o","x":1999.4,"y":34},{"p":"PAN","t":"o","x":1999.4,"y":30},{"p":"PAN","t":"o","x":1999.4,"y":26},{"p":"PAN","t":"o","x":1999.4,"y":22},{"p":"PAN","t":"o","x":1999.4,"y":13},{"p":"PAN","t":"o","x":2000.9,"y":34},{"p":"PAN","t":"o","x":2000.9,"y":28},{"p":"PAN","t":"o","x":2000.9,"y":24},{"p":"PAN","t":"o","x":2000.9,"y":19},{"p":"PAN","t":"o","x":2000.9,"y":16},{"p":"PAN","t":"o","x":2001.7,"y":34},{"p":"PAN","t":"o","x":2001.7,"y":28},{"p":"PAN","t":"o","x":2001.7,"y":22},{"p":"PAN","t":"o","x":2001.7,"y":16},{"p":"PAN","t":"o","x":2001.7,"y":12},{"p":"PAN","t":"o","x":2001.7,"y":10},{"p":"PAN","t":"o","x":2002.8,"y":28},{"p":"PAN","t":"o","x":2002.8,"y":22},{"p":"PAN","t":"o","x":2002.8,"y":18},{"p":"PAN","t":"o","x":2002.8,"y":15},{"p":"PAN","t":"o","x":2003.7,"y":26},{"p":"PAN","t":"o","x":2003.7,"y":21},{"p":"PAN","t":"o","x":2003.7,"y":16},{"p":"PAN","t":"o","x":2003.7,"y":12},{"p":"PAN","t":"o","x":2004.7,"y":29},{"p":"PAN","t":"o","x":2004.7,"y":24},{"p":"PAN","t":"o","x":2004.7,"y":18},{"p":"PAN","t":"o","x":2004.7,"y":13},{"p":"PAN","t":"o","x":2004.7,"y":8},{"p":"PAN","t":"o","x":2005.7,"y":32},{"p":"PAN","t":"o","x":2005.7,"y":26},{"p":"PAN","t":"o","x":2005.7,"y":20},{"p":"PAN","t":"o","x":2005.7,"y":14},{"p":"PAN","t":"o","x":2006.7,"y":34},{"p":"PAN","t":"o","x":2006.7,"y":28},{"p":"PAN","t":"o","x":2006.7,"y":24},{"p":"PAN","t":"o","x":2006.7,"y":19},{"p":"PAN","t":"o","x":2006.7,"y":15},
{"p":"PAN","t":"f","x":1999.4,"y":26.3},{"p":"PAN","t":"f","x":2001.7,"y":23},{"p":"PAN","t":"f","x":2003.7,"y":19.7},{"p":"PAN","t":"f","x":2005.7,"y":21.9},{"p":"PAN","t":"f","x":2006.7,"y":23},

{"p":"COL","t":"o","x":1993.3,"y":60},{"p":"COL","t":"o","x":1993.3,"y":45},{"p":"COL","t":"o","x":1993.3,"y":37},{"p":"COL","t":"o","x":1993.3,"y":30},{"p":"COL","t":"o","x":1993.3,"y":20},{"p":"COL","t":"o","x":1993.3,"y":10},{"p":"COL","t":"o","x":1994.5,"y":60},{"p":"COL","t":"o","x":1994.5,"y":42},{"p":"COL","t":"o","x":1994.5,"y":35},{"p":"COL","t":"o","x":1994.5,"y":28},{"p":"COL","t":"o","x":1994.5,"y":5},{"p":"COL","t":"o","x":1995.5,"y":60},{"p":"COL","t":"o","x":1995.5,"y":40},{"p":"COL","t":"o","x":1995.5,"y":34},{"p":"COL","t":"o","x":1995.5,"y":26},{"p":"COL","t":"o","x":1995.5,"y":15},{"p":"COL","t":"o","x":1996.7,"y":60},{"p":"COL","t":"o","x":1996.7,"y":44},{"p":"COL","t":"o","x":1996.7,"y":37},{"p":"COL","t":"o","x":1996.7,"y":31},{"p":"COL","t":"o","x":1996.7,"y":5},{"p":"COL","t":"o","x":1997.9,"y":60},{"p":"COL","t":"o","x":1997.9,"y":42},{"p":"COL","t":"o","x":1997.9,"y":35},{"p":"COL","t":"o","x":1997.9,"y":28},{"p":"COL","t":"o","x":1997.9,"y":18},{"p":"COL","t":"o","x":1999.1,"y":60},{"p":"COL","t":"o","x":1999.1,"y":40},{"p":"COL","t":"o","x":1999.1,"y":34},{"p":"COL","t":"o","x":1999.1,"y":27},{"p":"COL","t":"o","x":1999.1,"y":5},{"p":"COL","t":"o","x":2000.3,"y":60},{"p":"COL","t":"o","x":2000.3,"y":43},{"p":"COL","t":"o","x":2000.3,"y":35},{"p":"COL","t":"o","x":2000.3,"y":28},{"p":"COL","t":"o","x":2000.3,"y":12},{"p":"COL","t":"o","x":2001.5,"y":60},{"p":"COL","t":"o","x":2001.5,"y":41},{"p":"COL","t":"o","x":2001.5,"y":33},{"p":"COL","t":"o","x":2001.5,"y":26},{"p":"COL","t":"o","x":2001.5,"y":5},{"p":"COL","t":"o","x":2003.1,"y":60},{"p":"COL","t":"o","x":2003.1,"y":40},{"p":"COL","t":"o","x":2003.1,"y":32},{"p":"COL","t":"o","x":2003.1,"y":25},{"p":"COL","t":"o","x":2003.1,"y":5},{"p":"COL","t":"o","x":2004.7,"y":60},{"p":"COL","t":"o","x":2004.7,"y":38},{"p":"COL","t":"o","x":2004.7,"y":30},{"p":"COL","t":"o","x":2004.7,"y":22},{"p":"COL","t":"o","x":2004.7,"y":5},{"p":"COL","t":"o","x":2006.0,"y":60},{"p":"COL","t":"o","x":2006.0,"y":36},{"p":"COL","t":"o","x":2006.0,"y":28},{"p":"COL","t":"o","x":2006.0,"y":20},{"p":"COL","t":"o","x":2006.0,"y":8},
{"p":"COL","t":"f","x":1993.2,"y":34},{"p":"COL","t":"f","x":1997.0,"y":34},{"p":"COL","t":"f","x":2000.0,"y":33},{"p":"COL","t":"f","x":2003.0,"y":30},{"p":"COL","t":"f","x":2006.1,"y":28},

{"p":"MOR","t":"o","x":1995.2,"y":78},{"p":"MOR","t":"o","x":1995.2,"y":60},{"p":"MOR","t":"o","x":1995.2,"y":45},{"p":"MOR","t":"o","x":1995.2,"y":38},{"p":"MOR","t":"o","x":1995.2,"y":30},{"p":"MOR","t":"o","x":1995.2,"y":25},{"p":"MOR","t":"o","x":1995.2,"y":20},{"p":"MOR","t":"o","x":1995.8,"y":42},{"p":"MOR","t":"o","x":1995.8,"y":35},{"p":"MOR","t":"o","x":1995.8,"y":28},{"p":"MOR","t":"o","x":1995.8,"y":18},{"p":"MOR","t":"o","x":1996.4,"y":30},{"p":"MOR","t":"o","x":1996.4,"y":15},{"p":"MOR","t":"o","x":1996.4,"y":8},{"p":"MOR","t":"o","x":1996.4,"y":4},{"p":"MOR","t":"o","x":1996.4,"y":2},{"p":"MOR","t":"o","x":1996.4,"y":0.5},{"p":"MOR","t":"o","x":1997.3,"y":55},{"p":"MOR","t":"o","x":1997.3,"y":45},{"p":"MOR","t":"o","x":1997.3,"y":38},{"p":"MOR","t":"o","x":1997.3,"y":32},{"p":"MOR","t":"o","x":1997.3,"y":24},{"p":"MOR","t":"o","x":1998.2,"y":50},{"p":"MOR","t":"o","x":1998.2,"y":40},{"p":"MOR","t":"o","x":1998.2,"y":33},{"p":"MOR","t":"o","x":1998.2,"y":25},{"p":"MOR","t":"o","x":1998.2,"y":12},{"p":"MOR","t":"o","x":1999.0,"y":52},{"p":"MOR","t":"o","x":1999.0,"y":42},{"p":"MOR","t":"o","x":1999.0,"y":36},{"p":"MOR","t":"o","x":1999.0,"y":28},{"p":"MOR","t":"o","x":1999.0,"y":20},{"p":"MOR","t":"o","x":2000.1,"y":65},{"p":"MOR","t":"o","x":2000.1,"y":48},{"p":"MOR","t":"o","x":2000.1,"y":40},{"p":"MOR","t":"o","x":2000.1,"y":34},{"p":"MOR","t":"o","x":2000.1,"y":26},{"p":"MOR","t":"o","x":2000.1,"y":18},{"p":"MOR","t":"o","x":2001.2,"y":45},{"p":"MOR","t":"o","x":2001.2,"y":38},{"p":"MOR","t":"o","x":2001.2,"y":30},{"p":"MOR","t":"o","x":2001.2,"y":22},{"p":"MOR","t":"o","x":2002.4,"y":78},{"p":"MOR","t":"o","x":2002.4,"y":52},{"p":"MOR","t":"o","x":2002.4,"y":42},{"p":"MOR","t":"o","x":2002.4,"y":35},{"p":"MOR","t":"o","x":2002.4,"y":27},{"p":"MOR","t":"o","x":2003.5,"y":48},{"p":"MOR","t":"o","x":2003.5,"y":40},{"p":"MOR","t":"o","x":2003.5,"y":33},{"p":"MOR","t":"o","x":2003.5,"y":25},{"p":"MOR","t":"o","x":2004.6,"y":55},{"p":"MOR","t":"o","x":2004.6,"y":45},{"p":"MOR","t":"o","x":2004.6,"y":38},{"p":"MOR","t":"o","x":2004.6,"y":30},{"p":"MOR","t":"o","x":2004.6,"y":15},{"p":"MOR","t":"o","x":2005.6,"y":58},{"p":"MOR","t":"o","x":2005.6,"y":47},{"p":"MOR","t":"o","x":2005.6,"y":40},{"p":"MOR","t":"o","x":2005.6,"y":35},{"p":"MOR","t":"o","x":2005.6,"y":28},
{"p":"MOR","t":"f","x":1995.1,"y":29},{"p":"MOR","t":"f","x":1996.5,"y":28.5},{"p":"MOR","t":"f","x":1998.5,"y":34},{"p":"MOR","t":"f","x":1999.5,"y":38},{"p":"MOR","t":"f","x":2002.0,"y":38.5},{"p":"MOR","t":"f","x":2005.9,"y":37},

{"p":"MAR","t":"o","x":1995.0,"y":32},{"p":"MAR","t":"o","x":1995.0,"y":25},{"p":"MAR","t":"o","x":1995.0,"y":20},{"p":"MAR","t":"o","x":1995.0,"y":15},{"p":"MAR","t":"o","x":1995.0,"y":11},{"p":"MAR","t":"o","x":1995.0,"y":8},{"p":"MAR","t":"o","x":1995.0,"y":5},{"p":"MAR","t":"o","x":1995.0,"y":2},{"p":"MAR","t":"o","x":1994.9,"y":18},{"p":"MAR","t":"o","x":2004.8,"y":40},{"p":"MAR","t":"o","x":2004.8,"y":13},
{"p":"MAR","t":"f","x":1995.0,"y":10},{"p":"MAR","t":"f","x":2004.8,"y":34.5}
]},
"data":{"name":"d"},
"columns":6,
"spacing":{"row":24.4,"column":0},
"bounds":"flush",
"concat":[
{"width":195,"height":132,"transform":[{"filter":"datum.p=='MEX'"}],"layer":[{"encoding":{"x":{"field":"x","type":"quantitative","title":null,"scale":{"domain":[1992.58,2008.31],"nice":false,"zero":false},"axis":{"orient":"top","values":[1995,2000,2005]}},"y":{"field":"y","type":"quantitative","title":null,"scale":{"domain":[-4,83.7],"nice":false,"zero":false},"axis":{"values":[0,20,40,60,80],"labels":false,"ticks":false}}},"layer":[{"transform":[{"filter":"datum.t=='o'"}],"mark":"circle"},{"transform":[{"filter":"datum.t=='f'"}],"mark":"line"}]},{"transform":[{"filter":"datum.t=='l'"}],"mark":"text","encoding":{"x":{"datum":1993.39},"y":{"datum":77.4},"text":{"field":"n"}}},{"transform":[{"filter":"datum.t=='l'"}],"mark":{"type":"text","align":"center","baseline":"middle","fontSize":20,"font":"DejaVu Sans","color":"#d21e3c"},"encoding":{"x":{"datum":2001.2},"y":{"datum":71},"text":{"field":"s"}}}]},
{"width":195,"height":132,"transform":[{"filter":"datum.p=='FLA'"}],"layer":[{"encoding":{"x":{"field":"x","type":"quantitative","title":null,"scale":{"domain":[1992.58,2008.31],"nice":false,"zero":false},"axis":{"values":[1995,2000,2005],"labels":false,"ticks":false}},"y":{"field":"y","type":"quantitative","title":null,"scale":{"domain":[-4,83.7],"nice":false,"zero":false},"axis":{"values":[0,20,40,60,80],"labels":false,"ticks":false}}},"layer":[{"transform":[{"filter":"datum.t=='o'"}],"mark":"circle"},{"transform":[{"filter":"datum.t=='f'"}],"mark":"line"}]},{"transform":[{"filter":"datum.t=='l'"}],"mark":"text","encoding":{"x":{"datum":1993.31},"y":{"datum":77.4},"text":{"field":"n"}}}]},
{"width":195,"height":132,"transform":[{"filter":"datum.p=='CUB'"}],"layer":[{"encoding":{"x":{"field":"x","type":"quantitative","title":null,"scale":{"domain":[1992.58,2008.31],"nice":false,"zero":false},"axis":{"orient":"top","values":[1995,2000,2005]}},"y":{"field":"y","type":"quantitative","title":null,"scale":{"domain":[-4,83.7],"nice":false,"zero":false},"axis":{"values":[0,20,40,60,80],"labels":false,"ticks":false}}},"layer":[{"transform":[{"filter":"datum.t=='o'"}],"mark":"circle"},{"transform":[{"filter":"datum.t=='f'"}],"mark":"line"}]},{"transform":[{"filter":"datum.t=='l'"}],"mark":"text","encoding":{"x":{"datum":1993.23},"y":{"datum":77.4},"text":{"field":"n"}}}]},
{"width":195,"height":132,"transform":[{"filter":"datum.p=='BAH'"}],"layer":[{"encoding":{"x":{"field":"x","type":"quantitative","title":null,"scale":{"domain":[1992.58,2008.31],"nice":false,"zero":false},"axis":{"values":[1995,2000,2005],"labels":false,"ticks":false}},"y":{"field":"y","type":"quantitative","title":null,"scale":{"domain":[-4,83.7],"nice":false,"zero":false},"axis":{"values":[0,20,40,60,80],"labels":false,"ticks":false}}},"layer":[{"transform":[{"filter":"datum.t=='o'"}],"mark":"circle"},{"transform":[{"filter":"datum.t=='f'"}],"mark":"line"}]},{"transform":[{"filter":"datum.t=='l'"}],"mark":"text","encoding":{"x":{"datum":1993.31},"y":{"datum":77.4},"text":{"field":"n"}}}]},
{"width":195,"height":132,"transform":[{"filter":"datum.p=='TCI'"}],"layer":[{"encoding":{"x":{"field":"x","type":"quantitative","title":null,"scale":{"domain":[1992.58,2008.31],"nice":false,"zero":false},"axis":{"orient":"top","values":[1995,2000,2005]}},"y":{"field":"y","type":"quantitative","title":null,"scale":{"domain":[-4,83.7],"nice":false,"zero":false},"axis":{"values":[0,20,40,60,80],"labels":false,"ticks":false}}},"layer":[{"transform":[{"filter":"datum.t=='o'"}],"mark":"circle"},{"transform":[{"filter":"datum.t=='f'"}],"mark":"line"}]},{"transform":[{"filter":"datum.t=='l'"}],"mark":"text","encoding":{"x":{"datum":1992.98},"y":{"datum":77.4},"text":{"field":"n"}}}]},
{"width":195,"height":132,"transform":[{"filter":"datum.p=='BER'"}],"layer":[{"encoding":{"x":{"field":"x","type":"quantitative","title":null,"scale":{"domain":[1992.58,2008.31],"nice":false,"zero":false},"axis":{"values":[1995,2000,2005],"labels":false,"ticks":false}},"y":{"field":"y","type":"quantitative","title":null,"scale":{"domain":[-4,83.7],"nice":false,"zero":false},"axis":{"orient":"right","values":[0,20,40,60,80],"labelExpr":"datum.value % 40 == 0 ? datum.label : ''"}}},"layer":[{"transform":[{"filter":"datum.t=='o'"}],"mark":"circle"},{"transform":[{"filter":"datum.t=='f'"}],"mark":"line"}]},{"transform":[{"filter":"datum.t=='l'"}],"mark":"text","encoding":{"x":{"datum":1993.06},"y":{"datum":77.4},"text":{"field":"n"}}}]},

{"width":195,"height":132,"transform":[{"filter":"datum.p=='none'"}],"encoding":{"x":{"field":"x","type":"quantitative","title":null,"scale":{"domain":[1992.58,2008.31],"nice":false,"zero":false},"axis":{"values":[1995,2000,2005],"labels":false,"ticks":false}},"y":{"field":"y","type":"quantitative","title":null,"scale":{"domain":[-4,83.7],"nice":false,"zero":false},"axis":{"orient":"left","values":[0,20,40,60,80],"labelExpr":"datum.value % 40 == 0 ? datum.label : ''"}}},"mark":"circle"},
{"width":195,"height":132,"transform":[{"filter":"datum.p=='GCA'"}],"layer":[{"encoding":{"x":{"field":"x","type":"quantitative","title":null,"scale":{"domain":[1992.58,2008.31],"nice":false,"zero":false},"axis":{"values":[1995,2000,2005],"labels":false,"ticks":false}},"y":{"field":"y","type":"quantitative","title":null,"scale":{"domain":[-4,83.7],"nice":false,"zero":false},"axis":{"values":[0,20,40,60,80],"labels":false,"ticks":false}}},"layer":[{"transform":[{"filter":"datum.t=='o'"}],"mark":"circle"},{"transform":[{"filter":"datum.t=='f'"}],"mark":"line"}]},{"transform":[{"filter":"datum.t=='l'"}],"mark":"text","encoding":{"x":{"datum":1993.31},"y":{"datum":76.3},"text":{"field":"n"}}}]},
{"width":195,"height":132,"transform":[{"filter":"datum.p=='JAM'"}],"layer":[{"encoding":{"x":{"field":"x","type":"quantitative","title":null,"scale":{"domain":[1992.58,2008.31],"nice":false,"zero":false},"axis":{"values":[1995,2000,2005],"labels":false,"ticks":false}},"y":{"field":"y","type":"quantitative","title":null,"scale":{"domain":[-4,83.7],"nice":false,"zero":false},"axis":{"values":[0,20,40,60,80],"labels":false,"ticks":false}}},"layer":[{"transform":[{"filter":"datum.t=='o'"}],"mark":"circle"},{"transform":[{"filter":"datum.t=='f'"}],"mark":"line"}]},{"transform":[{"filter":"datum.t=='l'"}],"mark":"text","encoding":{"x":{"datum":1992.98},"y":{"datum":76.3},"text":{"field":"n"}}}]},
{"width":195,"height":132,"transform":[{"filter":"datum.p=='none'"}],"encoding":{"x":{"field":"x","type":"quantitative","title":null,"scale":{"domain":[1992.58,2008.31],"nice":false,"zero":false},"axis":{"values":[1995,2000,2005],"labels":false,"ticks":false}},"y":{"field":"y","type":"quantitative","title":null,"scale":{"domain":[-4,83.7],"nice":false,"zero":false},"axis":{"values":[0,20,40,60,80],"labels":false,"ticks":false}}},"mark":"circle"},
{"width":195,"height":132,"transform":[{"filter":"datum.p=='DOM'"}],"layer":[{"encoding":{"x":{"field":"x","type":"quantitative","title":null,"scale":{"domain":[1992.58,2008.31],"nice":false,"zero":false},"axis":{"values":[1995,2000,2005],"labels":false,"ticks":false}},"y":{"field":"y","type":"quantitative","title":null,"scale":{"domain":[-4,83.7],"nice":false,"zero":false},"axis":{"values":[0,20,40,60,80],"labels":false,"ticks":false}}},"layer":[{"transform":[{"filter":"datum.t=='o'"}],"mark":"circle"},{"transform":[{"filter":"datum.t=='f'"}],"mark":"line"}]},{"transform":[{"filter":"datum.t=='l'"}],"mark":"text","encoding":{"x":{"datum":1993.23},"y":{"datum":77},"text":{"field":"n"}}}]},
{"width":195,"height":132,"transform":[{"filter":"datum.p=='PUR'"}],"layer":[{"encoding":{"x":{"field":"x","type":"quantitative","title":null,"scale":{"domain":[1992.58,2008.31],"nice":false,"zero":false},"axis":{"values":[1995,2000,2005],"labels":false,"ticks":false}},"y":{"field":"y","type":"quantitative","title":null,"scale":{"domain":[-4,83.7],"nice":false,"zero":false},"axis":{"values":[0,20,40,60,80],"labels":false,"ticks":false}}},"layer":[{"transform":[{"filter":"datum.t=='o'"}],"mark":"circle"},{"transform":[{"filter":"datum.t=='f'"}],"mark":"line"}]},{"transform":[{"filter":"datum.t=='l'"}],"mark":"text","encoding":{"x":{"datum":1993.06},"y":{"datum":11.7},"text":{"field":"n"}}},{"transform":[{"filter":"datum.t=='l'"}],"mark":{"type":"text","align":"center","baseline":"middle","fontSize":20,"font":"DejaVu Sans","color":"#d21e3c"},"encoding":{"x":{"datum":2005.1},"y":{"datum":5.3},"text":{"field":"s"}}}]},

{"width":195,"height":132,"transform":[{"filter":"datum.p=='BEL'"}],"layer":[{"encoding":{"x":{"field":"x","type":"quantitative","title":null,"scale":{"domain":[1992.58,2008.31],"nice":false,"zero":false},"axis":{"values":[1995,2000,2005],"labels":false,"ticks":false}},"y":{"field":"y","type":"quantitative","title":null,"scale":{"domain":[-4,83.7],"nice":false,"zero":false},"axis":{"values":[0,20,40,60,80],"labels":false,"ticks":false}}},"layer":[{"transform":[{"filter":"datum.t=='o'"}],"mark":"circle"},{"transform":[{"filter":"datum.t=='f'"}],"mark":"line"}]},{"transform":[{"filter":"datum.t=='l'"}],"mark":"text","encoding":{"x":{"datum":1993.39},"y":{"datum":77.4},"text":{"field":"n"}}},{"transform":[{"filter":"datum.t=='l'"}],"mark":{"type":"text","align":"center","baseline":"middle","fontSize":20,"font":"DejaVu Sans","color":"#d21e3c"},"encoding":{"x":{"datum":2000.7},"y":{"datum":71},"text":{"field":"s"}}}]},
{"width":195,"height":132,"transform":[{"filter":"datum.p=='none'"}],"encoding":{"x":{"field":"x","type":"quantitative","title":null,"scale":{"domain":[1992.58,2008.31],"nice":false,"zero":false},"axis":{"values":[1995,2000,2005],"labels":false,"ticks":false}},"y":{"field":"y","type":"quantitative","title":null,"scale":{"domain":[-4,83.7],"nice":false,"zero":false},"axis":{"values":[0,20,40,60,80],"labels":false,"ticks":false}}},"mark":"circle"},
{"width":195,"height":132,"transform":[{"filter":"datum.p=='none'"}],"encoding":{"x":{"field":"x","type":"quantitative","title":null,"scale":{"domain":[1992.58,2008.31],"nice":false,"zero":false},"axis":{"values":[1995,2000,2005],"labels":false,"ticks":false}},"y":{"field":"y","type":"quantitative","title":null,"scale":{"domain":[-4,83.7],"nice":false,"zero":false},"axis":{"values":[0,20,40,60,80],"labels":false,"ticks":false}}},"mark":"circle"},
{"width":195,"height":132,"transform":[{"filter":"datum.p=='none'"}],"encoding":{"x":{"field":"x","type":"quantitative","title":null,"scale":{"domain":[1992.58,2008.31],"nice":false,"zero":false},"axis":{"values":[1995,2000,2005],"labels":false,"ticks":false}},"y":{"field":"y","type":"quantitative","title":null,"scale":{"domain":[-4,83.7],"nice":false,"zero":false},"axis":{"values":[0,20,40,60,80],"labels":false,"ticks":false}}},"mark":"circle"},
{"width":195,"height":132,"transform":[{"filter":"datum.p=='none'"}],"encoding":{"x":{"field":"x","type":"quantitative","title":null,"scale":{"domain":[1992.58,2008.31],"nice":false,"zero":false},"axis":{"values":[1995,2000,2005],"labels":false,"ticks":false}},"y":{"field":"y","type":"quantitative","title":null,"scale":{"domain":[-4,83.7],"nice":false,"zero":false},"axis":{"values":[0,20,40,60,80],"labels":false,"ticks":false}}},"mark":"circle"},
{"width":195,"height":132,"transform":[{"filter":"datum.p=='SAB'"}],"layer":[{"encoding":{"x":{"field":"x","type":"quantitative","title":null,"scale":{"domain":[1992.58,2008.31],"nice":false,"zero":false},"axis":{"values":[1995,2000,2005],"labels":false,"ticks":false}},"y":{"field":"y","type":"quantitative","title":null,"scale":{"domain":[-4,83.7],"nice":false,"zero":false},"axis":{"orient":"right","values":[0,20,40,60,80],"labelExpr":"datum.value % 40 == 0 ? datum.label : ''"}}},"layer":[{"transform":[{"filter":"datum.t=='o'"}],"mark":"circle"},{"transform":[{"filter":"datum.t=='f'"}],"mark":"line"}]},{"transform":[{"filter":"datum.t=='l'"}],"mark":"text","encoding":{"x":{"datum":1993.06},"y":{"datum":77.4},"text":{"field":"n"}}},{"transform":[{"filter":"datum.t=='l'"}],"mark":{"type":"text","align":"center","baseline":"middle","fontSize":20,"font":"DejaVu Sans","color":"#d21e3c"},"encoding":{"x":{"datum":2002.9},"y":{"datum":71},"text":{"field":"s"}}}]},

{"width":195,"height":132,"transform":[{"filter":"datum.p=='none'"}],"encoding":{"x":{"field":"x","type":"quantitative","title":null,"scale":{"domain":[1992.58,2008.31],"nice":false,"zero":false},"axis":{"values":[1995,2000,2005],"labels":false,"ticks":false}},"y":{"field":"y","type":"quantitative","title":"HARD CORAL","scale":{"domain":[-4,83.7],"nice":false,"zero":false},"axis":{"orient":"left","values":[0,20,40,60,80],"labelExpr":"datum.value % 40 == 0 ? datum.label : ''","title":"HARD CORAL","titleX":-97,"titleY":-14,"titleAlign":"center","titleBaseline":"middle","titleAngle":-90}}},"mark":"circle"},
{"width":195,"height":132,"transform":[{"filter":"datum.p=='SAN'"}],"layer":[{"encoding":{"x":{"field":"x","type":"quantitative","title":null,"scale":{"domain":[1992.58,2008.31],"nice":false,"zero":false},"axis":{"values":[1995,2000,2005],"labels":false,"ticks":false}},"y":{"field":"y","type":"quantitative","title":null,"scale":{"domain":[-4,83.7],"nice":false,"zero":false},"axis":{"values":[0,20,40,60,80],"labels":false,"ticks":false}}},"layer":[{"transform":[{"filter":"datum.t=='o'"}],"mark":"circle"},{"transform":[{"filter":"datum.t=='f'"}],"mark":"line"}]},{"transform":[{"filter":"datum.t=='l'"}],"mark":"text","encoding":{"x":{"datum":1993.15},"y":{"datum":81.4},"text":{"field":"n"}}},{"transform":[{"filter":"datum.t=='l'"}],"mark":{"type":"text","align":"center","baseline":"middle","fontSize":20,"font":"DejaVu Sans","color":"#d21e3c"},"encoding":{"x":{"datum":2004.7},"y":{"datum":75},"text":{"field":"s"}}}]},
{"width":195,"height":132,"transform":[{"filter":"datum.p=='none'"}],"encoding":{"x":{"field":"x","type":"quantitative","title":null,"scale":{"domain":[1992.58,2008.31],"nice":false,"zero":false},"axis":{"values":[1995,2000,2005],"labels":false,"ticks":false}},"y":{"field":"y","type":"quantitative","title":null,"scale":{"domain":[-4,83.7],"nice":false,"zero":false},"axis":{"values":[0,20,40,60,80],"labels":false,"ticks":false}}},"mark":"circle"},
{"width":195,"height":132,"transform":[{"filter":"datum.p=='none'"}],"encoding":{"x":{"field":"x","type":"quantitative","title":null,"scale":{"domain":[1992.58,2008.31],"nice":false,"zero":false},"axis":{"values":[1995,2000,2005],"labels":false,"ticks":false}},"y":{"field":"y","type":"quantitative","title":null,"scale":{"domain":[-4,83.7],"nice":false,"zero":false},"axis":{"values":[0,20,40,60,80],"labels":false,"ticks":false}}},"mark":"circle"},
{"width":195,"height":132,"transform":[{"filter":"datum.p=='BON'"}],"layer":[{"encoding":{"x":{"field":"x","type":"quantitative","title":null,"scale":{"domain":[1992.58,2008.31],"nice":false,"zero":false},"axis":{"values":[1995,2000,2005],"labels":false,"ticks":false}},"y":{"field":"y","type":"quantitative","title":null,"scale":{"domain":[-4,83.7],"nice":false,"zero":false},"axis":{"values":[0,20,40,60,80],"labels":false,"ticks":false}}},"layer":[{"transform":[{"filter":"datum.t=='o'"}],"mark":"circle"},{"transform":[{"filter":"datum.t=='f'"}],"mark":"line"}]},{"transform":[{"filter":"datum.t=='l'"}],"mark":"text","encoding":{"x":{"datum":1993.23},"y":{"datum":74.1},"text":{"field":"n"}}}]},
{"width":195,"height":132,"transform":[{"filter":"datum.p=='BAR'"}],"layer":[{"encoding":{"x":{"field":"x","type":"quantitative","title":null,"scale":{"domain":[1992.58,2008.31],"nice":false,"zero":false},"axis":{"values":[1995,2000,2005],"labels":false,"ticks":false}},"y":{"field":"y","type":"quantitative","title":null,"scale":{"domain":[-4,83.7],"nice":false,"zero":false},"axis":{"values":[0,20,40,60,80],"labels":false,"ticks":false}}},"layer":[{"transform":[{"filter":"datum.t=='o'"}],"mark":"circle"},{"transform":[{"filter":"datum.t=='f'"}],"mark":"line"}]},{"transform":[{"filter":"datum.t=='l'"}],"mark":"text","encoding":{"x":{"datum":1993.23},"y":{"datum":75.4},"text":{"field":"n"}}},{"transform":[{"filter":"datum.t=='l'"}],"mark":{"type":"text","align":"center","baseline":"middle","fontSize":20,"font":"DejaVu Sans","color":"#d21e3c"},"encoding":{"x":{"datum":2003.4},"y":{"datum":69},"text":{"field":"s"}}}]},

{"width":195,"height":132,"transform":[{"filter":"datum.p=='NIC'"}],"layer":[{"encoding":{"x":{"field":"x","type":"quantitative","title":null,"scale":{"domain":[1992.58,2008.31],"nice":false,"zero":false},"axis":{"values":[1995,2000,2005],"labels":false,"ticks":false}},"y":{"field":"y","type":"quantitative","title":null,"scale":{"domain":[-4,83.7],"nice":false,"zero":false},"axis":{"values":[0,20,40,60,80],"labels":false,"ticks":false}}},"layer":[{"transform":[{"filter":"datum.t=='o'"}],"mark":"circle"},{"transform":[{"filter":"datum.t=='f'"}],"mark":"line"}]},{"transform":[{"filter":"datum.t=='l'"}],"mark":"text","encoding":{"x":{"datum":1993.39},"y":{"datum":77.4},"text":{"field":"n"}}}]},
{"width":195,"height":132,"transform":[{"filter":"datum.p=='none'"}],"encoding":{"x":{"field":"x","type":"quantitative","title":null,"scale":{"domain":[1992.58,2008.31],"nice":false,"zero":false},"axis":{"values":[1995,2000,2005],"labels":false,"ticks":false}},"y":{"field":"y","type":"quantitative","title":null,"scale":{"domain":[-4,83.7],"nice":false,"zero":false},"axis":{"values":[0,20,40,60,80],"labels":false,"ticks":false}}},"mark":"circle"},
{"width":195,"height":132,"transform":[{"filter":"datum.p=='none'"}],"encoding":{"x":{"field":"x","type":"quantitative","title":null,"scale":{"domain":[1992.58,2008.31],"nice":false,"zero":false},"axis":{"values":[1995,2000,2005],"labels":false,"ticks":false}},"y":{"field":"y","type":"quantitative","title":null,"scale":{"domain":[-4,83.7],"nice":false,"zero":false},"axis":{"values":[0,20,40,60,80],"labels":false,"ticks":false}}},"mark":"circle"},
{"width":195,"height":132,"transform":[{"filter":"datum.p=='none'"}],"encoding":{"x":{"field":"x","type":"quantitative","title":null,"scale":{"domain":[1992.58,2008.31],"nice":false,"zero":false},"axis":{"values":[1995,2000,2005],"labels":false,"ticks":false}},"y":{"field":"y","type":"quantitative","title":null,"scale":{"domain":[-4,83.7],"nice":false,"zero":false},"axis":{"values":[0,20,40,60,80],"labels":false,"ticks":false}}},"mark":"circle"},
{"width":195,"height":132,"transform":[{"filter":"datum.p=='CUR'"}],"layer":[{"encoding":{"x":{"field":"x","type":"quantitative","title":null,"scale":{"domain":[1992.58,2008.31],"nice":false,"zero":false},"axis":{"values":[1995,2000,2005],"labels":false,"ticks":false}},"y":{"field":"y","type":"quantitative","title":null,"scale":{"domain":[-4,83.7],"nice":false,"zero":false},"axis":{"values":[0,20,40,60,80],"labels":false,"ticks":false}}},"layer":[{"transform":[{"filter":"datum.t=='o'"}],"mark":"circle"},{"transform":[{"filter":"datum.t=='f'"}],"mark":"line"}]},{"transform":[{"filter":"datum.t=='l'"}],"mark":"text","encoding":{"x":{"datum":1993.23},"y":{"datum":76.1},"text":{"field":"n"}}}]},
{"width":195,"height":132,"transform":[{"filter":"datum.p=='TTO'"}],"layer":[{"encoding":{"x":{"field":"x","type":"quantitative","title":null,"scale":{"domain":[1992.58,2008.31],"nice":false,"zero":false},"axis":{"values":[1995,2000,2005],"labels":false,"ticks":false}},"y":{"field":"y","type":"quantitative","title":null,"scale":{"domain":[-4,83.7],"nice":false,"zero":false},"axis":{"orient":"right","values":[0,20,40,60,80],"labelExpr":"datum.value % 40 == 0 ? datum.label : ''"}}},"layer":[{"transform":[{"filter":"datum.t=='o'"}],"mark":"circle"},{"transform":[{"filter":"datum.t=='f'"}],"mark":"line"}]},{"transform":[{"filter":"datum.t=='l'"}],"mark":"text","encoding":{"x":{"datum":1993.06},"y":{"datum":78.4},"text":{"field":"n"}}}]},

{"width":195,"height":132,"transform":[{"filter":"datum.p=='CRI'"}],"layer":[{"encoding":{"x":{"field":"x","type":"quantitative","title":null,"scale":{"domain":[1992.58,2008.31],"nice":false,"zero":false},"axis":{"values":[1995,2000,2005],"labels":false,"ticks":false}},"y":{"field":"y","type":"quantitative","title":null,"scale":{"domain":[-4,83.7],"nice":false,"zero":false},"axis":{"orient":"left","values":[0,20,40,60,80],"labelExpr":"datum.value % 40 == 0 ? datum.label : ''"}}},"layer":[{"transform":[{"filter":"datum.t=='o'"}],"mark":"circle"},{"transform":[{"filter":"datum.t=='f'"}],"mark":"line"}]},{"transform":[{"filter":"datum.t=='l'"}],"mark":"text","encoding":{"x":{"datum":1993.39},"y":{"datum":78.8},"text":{"field":"n"}}}]},
{"width":195,"height":132,"transform":[{"filter":"datum.p=='PAN'"}],"layer":[{"encoding":{"x":{"field":"x","type":"quantitative","title":null,"scale":{"domain":[1992.58,2008.31],"nice":false,"zero":false},"axis":{"orient":"bottom","values":[1995,2000,2005]}},"y":{"field":"y","type":"quantitative","title":null,"scale":{"domain":[-4,83.7],"nice":false,"zero":false},"axis":{"values":[0,20,40,60,80],"labels":false,"ticks":false}}},"layer":[{"transform":[{"filter":"datum.t=='o'"}],"mark":"circle"},{"transform":[{"filter":"datum.t=='f'"}],"mark":"line"}]},{"transform":[{"filter":"datum.t=='l'"}],"mark":"text","encoding":{"x":{"datum":1993.31},"y":{"datum":78.1},"text":{"field":"n"}}},{"transform":[{"filter":"datum.t=='l'"}],"mark":{"type":"text","align":"center","baseline":"middle","fontSize":20,"font":"DejaVu Sans","color":"#d21e3c"},"encoding":{"x":{"datum":2002.5},"y":{"datum":71.7},"text":{"field":"s"}}}]},
{"width":195,"height":132,"transform":[{"filter":"datum.p=='none'"}],"encoding":{"x":{"field":"x","type":"quantitative","title":null,"scale":{"domain":[1992.58,2008.31],"nice":false,"zero":false},"axis":{"values":[1995,2000,2005],"labels":false,"ticks":false}},"y":{"field":"y","type":"quantitative","title":null,"scale":{"domain":[-4,83.7],"nice":false,"zero":false},"axis":{"values":[0,20,40,60,80],"labels":false,"ticks":false}}},"mark":"circle"},
{"width":195,"height":132,"transform":[{"filter":"datum.p=='COL'"}],"layer":[{"encoding":{"x":{"field":"x","type":"quantitative","title":"TIME","scale":{"domain":[1992.58,2008.31],"nice":false,"zero":false},"axis":{"orient":"bottom","values":[1995,2000,2005],"title":"TIME","titleX":0,"titleY":106,"titleAlign":"center","titleBaseline":"middle"}},"y":{"field":"y","type":"quantitative","title":null,"scale":{"domain":[-4,83.7],"nice":false,"zero":false},"axis":{"values":[0,20,40,60,80],"labels":false,"ticks":false}}},"layer":[{"transform":[{"filter":"datum.t=='o'"}],"mark":"circle"},{"transform":[{"filter":"datum.t=='f'"}],"mark":"line"}]},{"transform":[{"filter":"datum.t=='l'"}],"mark":"text","encoding":{"x":{"datum":1992.9},"y":{"datum":78.8},"text":{"field":"n"}}},{"transform":[{"filter":"datum.t=='l'"}],"mark":{"type":"text","align":"center","baseline":"middle","fontSize":20,"font":"DejaVu Sans","color":"#d21e3c"},"encoding":{"x":{"datum":2001.7},"y":{"datum":72.4},"text":{"field":"s"}}}]},
{"width":195,"height":132,"transform":[{"filter":"datum.p=='MOR'"}],"layer":[{"encoding":{"x":{"field":"x","type":"quantitative","title":null,"scale":{"domain":[1992.58,2008.31],"nice":false,"zero":false},"axis":{"values":[1995,2000,2005],"labels":false,"ticks":false}},"y":{"field":"y","type":"quantitative","title":null,"scale":{"domain":[-4,83.7],"nice":false,"zero":false},"axis":{"values":[0,20,40,60,80],"labels":false,"ticks":false}}},"layer":[{"transform":[{"filter":"datum.t=='o'"}],"mark":"circle"},{"transform":[{"filter":"datum.t=='f'"}],"mark":"line"}]},{"transform":[{"filter":"datum.t=='l'"}],"mark":"text","encoding":{"x":{"datum":1996.7},"y":{"datum":76.8},"text":{"field":"n"}}},{"transform":[{"filter":"datum.t=='l'"}],"mark":{"type":"text","align":"center","baseline":"middle","fontSize":20,"font":"DejaVu Sans","color":"#d21e3c"},"encoding":{"x":{"datum":2002.6},"y":{"datum":5.3},"text":{"field":"s"}}}]},
{"width":195,"height":132,"transform":[{"filter":"datum.p=='MAR'"}],"layer":[{"encoding":{"x":{"field":"x","type":"quantitative","title":null,"scale":{"domain":[1992.58,2008.31],"nice":false,"zero":false},"axis":{"orient":"bottom","values":[1995,2000,2005]}},"y":{"field":"y","type":"quantitative","title":null,"scale":{"domain":[-4,83.7],"nice":false,"zero":false},"axis":{"values":[0,20,40,60,80],"labels":false,"ticks":false}}},"layer":[{"transform":[{"filter":"datum.t=='o'"}],"mark":"circle"},{"transform":[{"filter":"datum.t=='f'"}],"mark":"line"}]},{"transform":[{"filter":"datum.t=='l'"}],"mark":"text","encoding":{"x":{"datum":1993.23},"y":{"datum":78.8},"text":{"field":"n"}}}]}
]
}
